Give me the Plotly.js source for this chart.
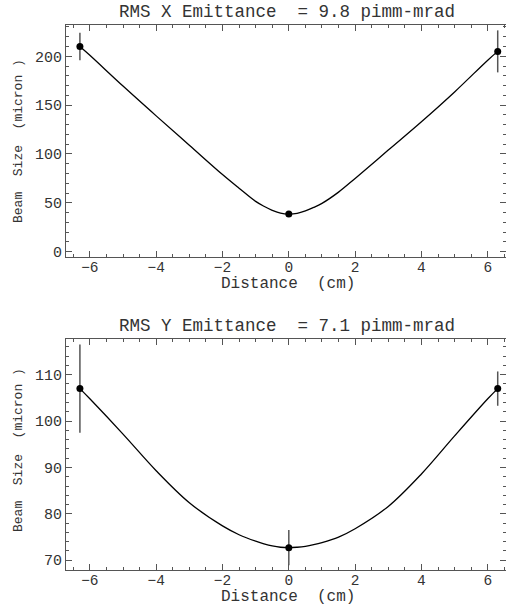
<!DOCTYPE html>
<html>
<head>
<meta charset="utf-8">
<script src="https://cdn.plot.ly/plotly-3.0.1.min.js"></script>
<style>html,body{margin:0;padding:0;background:#fff;}#chart{width:506px;height:605px;}</style>
</head>
<body>
<div id="chart"></div>
<script>
// ---- data ----
const measX = [-6.3, 0, 6.3];
const sizeX = [210, 38.5, 205];
const errX = [14, 1.5, 21.5];
const sizeY = [107, 72.7, 107];
const errY = [9.5, 3.8, 3.7];

const fitXpos = [-6.3, -6, -5, -4, -3, -2, -1.5, -1, -0.75, -0.5, -0.25, 0, 0.25, 0.5, 0.75, 1, 1.5, 2, 3, 4, 5, 6, 6.3];
const fitXsize = [210, 201, 169.5, 139, 109, 79, 65, 51.5, 46.5, 42.4, 39.4, 38.5, 39.3, 41.8, 45.3, 49.5, 61, 75, 104, 133, 163.5, 196, 205];
const fitYsize = [107, 104.8, 97.2, 89.3, 82.4, 77.4, 75.5, 74.1, 73.55, 73.1, 72.8, 72.7, 72.8, 73.0, 73.35, 73.8, 75.0, 76.8, 81.6, 88.6, 96.8, 104.8, 107];

const xTickVals = [-6, -4, -2, 0, 2, 4, 6];
const topTitle = 'RMS X Emittance  = 9.8 pimm-mrad';
const botTitle = 'RMS Y Emittance  = 7.1 pimm-mrad';
const xLabel = 'Distance  (cm)';
const yLabel = 'Beam  Size  (micron )';

const FONT = 'Liberation Mono, Courier New, monospace';
const TXT = '#333';
const FRAME = '#555';

const curveLine = {color: '#000', width: 1.3, shape: 'spline', smoothing: 1};
const traces = [
  {x: fitXpos, y: fitXsize, mode: 'lines', line: curveLine, xaxis: 'x', yaxis: 'y', hoverinfo: 'skip'},
  {x: measX, y: sizeX, mode: 'markers', marker: {color: '#000', size: 7},
   error_y: {type: 'data', array: errX, visible: true, color: '#555', thickness: 1.5, width: 0}, xaxis: 'x', yaxis: 'y'},
  {x: fitXpos, y: fitYsize, mode: 'lines', line: curveLine, xaxis: 'x2', yaxis: 'y2', hoverinfo: 'skip'},
  {x: measX, y: sizeY, mode: 'markers', marker: {color: '#000', size: 7},
   error_y: {type: 'data', array: errY, visible: true, color: '#555', thickness: 1.5, width: 0}, xaxis: 'x2', yaxis: 'y2'}
];

function xax(anchor) {
  return {
    anchor: anchor, domain: [0.1304, 1], range: [-6.72, 6.55],
    showgrid: false, zeroline: false, showline: true, linecolor: FRAME, linewidth: 1, mirror: 'ticks',
    ticks: 'inside', ticklen: 6, tickcolor: FRAME, tickvals: xTickVals,
    ticklabelstandoff: -3,
    minor: {dtick: 0.5, tick0: 0, ticks: 'inside', ticklen: 3, tickcolor: FRAME},
    tickfont: {family: FONT, size: 14.5, color: TXT}
  };
}
function yax(anchor, domain, range, dtick, minorDtick) {
  return {
    anchor: anchor, domain: domain, range: range,
    showgrid: false, zeroline: false, showline: true, linecolor: FRAME, linewidth: 1, mirror: 'ticks',
    ticks: 'inside', ticklen: 6, tickcolor: FRAME, dtick: dtick, tick0: 0,
    minor: {dtick: minorDtick, ticks: 'inside', ticklen: 3, tickcolor: FRAME},
    tickfont: {family: FONT, size: 15, color: TXT}
  };
}

function ann(text, xpx, ypx, size, angle) {
  return {text: text, xref: 'paper', yref: 'paper', x: xpx / 506, y: 1 - ypx / 605,
          xanchor: 'center', yanchor: 'middle', showarrow: false, textangle: angle || 0,
          font: {family: FONT, size: size, color: TXT}};
}

const layout = {
  width: 506, height: 605,
  margin: {l: 0, r: 0, t: 0, b: 0},
  paper_bgcolor: '#fff', plot_bgcolor: '#fff',
  showlegend: false,
  xaxis: xax('y'),
  yaxis: yax('x', [0.5752, 0.9587], [-5.4, 232], 50, 10),
  xaxis2: xax('y2'),
  yaxis2: yax('x2', [0.0579, 0.4397], [67.9, 117.7], 10, 2),
  annotations: [
    ann(topTitle, 287, 12, 17.5),
    ann(botTitle, 287, 326, 17.5),
    ann(xLabel, 288, 284, 16),
    ann(xLabel, 288, 597, 16),
    ann(yLabel, 18, 141, 13, -90),
    ann(yLabel, 18, 450, 13, -90)
  ]
};

Plotly.newPlot('chart', traces, layout, {displayModeBar: false, staticPlot: true});
</script>
</body>
</html>
